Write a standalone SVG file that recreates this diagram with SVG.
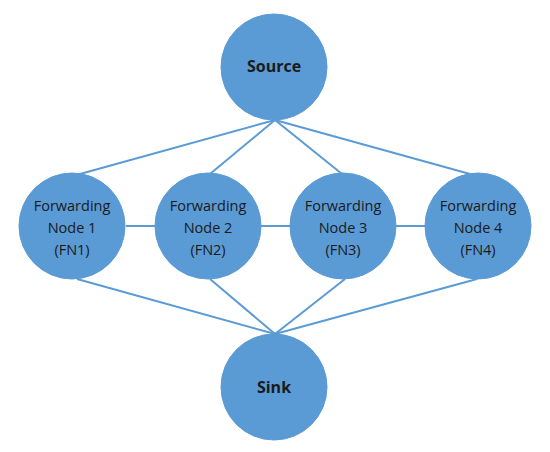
<svg xmlns="http://www.w3.org/2000/svg" width="550" height="452" viewBox="0 0 550 452">
<style>
.n{fill:#5B9BD5;stroke:#5B9BD5;stroke-width:1}
.e{stroke:#5B9BD5;stroke-width:2;fill:none}
.t{font-family:"Open Sans","Liberation Sans",sans-serif;font-size:14.5px;fill:#1a1a1a;text-anchor:middle}
.b{font-weight:bold;font-size:16px}
</style>
<rect width="550" height="452" fill="#ffffff"/>
<g id="connectors">
<line class="e" x1="275" y1="120" x2="80" y2="174"/>
<line class="e" x1="275" y1="120" x2="210" y2="174"/>
<line class="e" x1="275" y1="120" x2="342" y2="174"/>
<line class="e" x1="275" y1="120" x2="470" y2="174"/>
<line class="e" x1="126" y1="226" x2="155" y2="226"/>
<line class="e" x1="261" y1="226" x2="290" y2="226"/>
<line class="e" x1="396" y1="226" x2="425" y2="226"/>
<line class="e" x1="77" y1="279" x2="275" y2="334"/>
<line class="e" x1="210" y1="279" x2="275" y2="334"/>
<line class="e" x1="345" y1="279" x2="275" y2="334"/>
<line class="e" x1="477" y1="279" x2="275" y2="334"/>
</g>
<g id="source"><circle class="n" cx="274" cy="67" r="53"/><text class="t b" x="274" y="72">Source</text></g>
<g id="fn1"><circle class="n" cx="72" cy="226" r="53"/><text class="t" x="72" y="211">Forwarding</text><text class="t" x="72" y="233">Node 1</text><text class="t" x="72" y="255">(FN1)</text></g>
<g id="fn2"><circle class="n" cx="208" cy="226" r="53"/><text class="t" x="208" y="211">Forwarding</text><text class="t" x="208" y="233">Node 2</text><text class="t" x="208" y="255">(FN2)</text></g>
<g id="fn3"><circle class="n" cx="343" cy="226" r="53"/><text class="t" x="343" y="211">Forwarding</text><text class="t" x="343" y="233">Node 3</text><text class="t" x="343" y="255">(FN3)</text></g>
<g id="fn4"><circle class="n" cx="478" cy="226" r="53"/><text class="t" x="478" y="211">Forwarding</text><text class="t" x="478" y="233">Node 4</text><text class="t" x="478" y="255">(FN4)</text></g>
<g id="sink"><circle class="n" cx="274" cy="387" r="53"/><text class="t b" x="274" y="393">Sink</text></g>
</svg>
